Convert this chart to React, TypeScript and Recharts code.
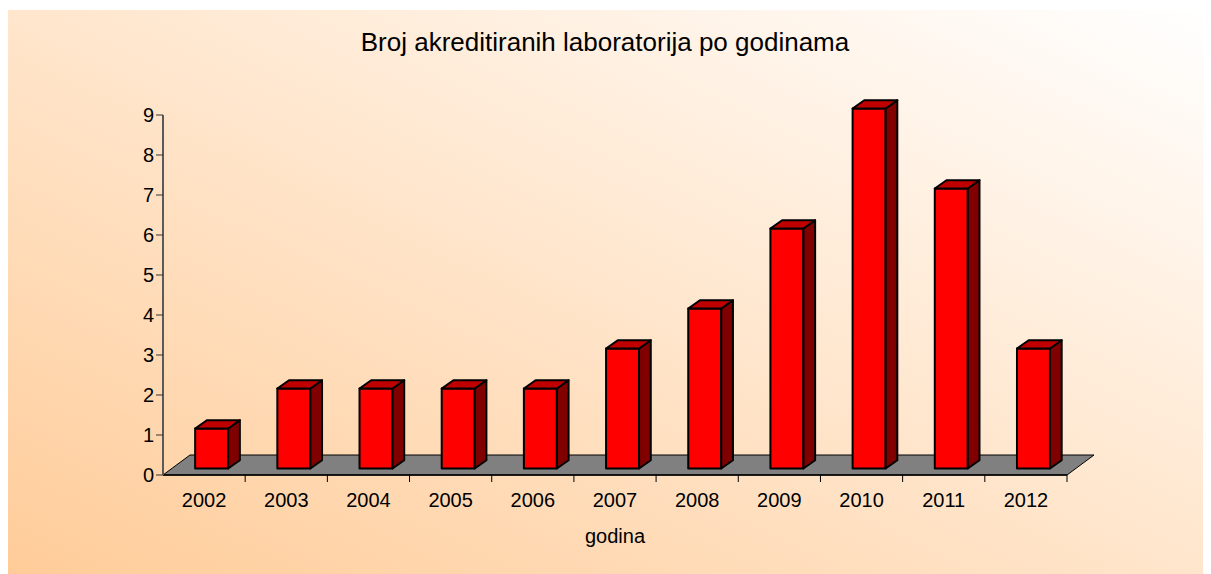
import React from 'react';
import { BarChart, Bar, XAxis, YAxis, ReferenceArea } from 'recharts';

const years = ['2002', '2003', '2004', '2005', '2006', '2007', '2008', '2009', '2010', '2011', '2012'];
const counts = [1, 2, 2, 2, 2, 3, 4, 6, 9, 7, 3];
const yTicks = [0, 1, 2, 3, 4, 5, 6, 7, 8, 9];
const titleText = 'Broj akreditiranih laboratorija po godinama';
const xAxisTitle = 'godina';

const data = years.map((year, i) => ({ year, count: counts[i] }));

const FONT = '"Liberation Sans", Arial, sans-serif';
const DEPTH_X = 11.7;
const DEPTH_Y = 8.3;
const SHIFT_X = 7.5;
const SHIFT_Y = 6.5;
const FLOOR_X = 27;
const FLOOR_Y = 20;

function Box(props: any) {
  const { x, y, width, height } = props;
  if (width == null || height == null) return null;
  const fx = x + SHIFT_X;
  const fy = y - SHIFT_Y;
  const top = `M${fx},${fy} L${fx + DEPTH_X},${fy - DEPTH_Y} L${fx + width + DEPTH_X},${fy - DEPTH_Y} L${fx + width},${fy} Z`;
  const side = `M${fx + width},${fy} L${fx + width + DEPTH_X},${fy - DEPTH_Y} L${fx + width + DEPTH_X},${fy + height - DEPTH_Y} L${fx + width},${fy + height} Z`;
  return (
    <g stroke="#000" strokeWidth={2} strokeLinejoin="round">
      <rect x={fx} y={fy} width={width} height={height} fill="#FF0000" />
      <path d={side} fill="#800000" />
      <path d={top} fill="#C00000" />
    </g>
  );
}

function Floor(props: any) {
  const { x, y, width, height } = props;
  const b = y + height;
  const d = `M${x},${b} L${x + FLOOR_X},${b - FLOOR_Y} L${x + width + FLOOR_X},${b - FLOOR_Y} L${x + width},${b} Z`;
  const n = years.length;
  const ticks = [];
  for (let i = 1; i <= n; i++) {
    const tx = x + (width * i) / n;
    ticks.push(<line key={i} x1={tx} y1={b} x2={tx} y2={b + 7} stroke="#000" strokeWidth={1} />);
  }
  return (
    <g>
      <path d={d} fill="#808080" stroke="#000" strokeWidth={1} />
      {ticks}
    </g>
  );
}

export default function App() {
  return (
    <div style={{ paddingTop: 2 }}>
      <div
        style={{
          position: 'relative',
          width: 1203,
          height: 564,
          background: 'linear-gradient(to top right, #FFCC99, #FFFFFF)',
          fontFamily: FONT,
        }}
      >
        <div
          style={{
            position: 'absolute',
            left: 0,
            top: 17,
            width: 1194,
            textAlign: 'center',
            fontSize: 26,
            lineHeight: '30px',
            color: '#000',
          }}
        >
          {titleText}
        </div>
        <BarChart
          width={1203}
          height={564}
          data={data}
          margin={{ top: 105, right: 144, left: 95, bottom: 59 }}
          barCategoryGap="30%"
          style={{ position: 'absolute', left: 0, top: 0 }}
        >
          <ReferenceArea
            x1={years[0]}
            x2={years[years.length - 1]}
            y1={0}
            y2={9}
            ifOverflow="visible"
            shape={(p: any) => <Floor {...p} />}
          />
          <XAxis
            dataKey="year"
            interval={0}
            tickLine={false}
            tickSize={8}
            tickMargin={10}
            axisLine={{ stroke: '#000', strokeWidth: 1.5 }}
            tick={{ fill: '#000', fontSize: 20, fontFamily: FONT }}
            height={40}
            label={{ value: xAxisTitle, position: 'bottom', offset: 14, fill: '#000', fontSize: 20, fontFamily: FONT }}
          />
          <YAxis
            domain={[0, 9]}
            ticks={yTicks}
            interval={0}
            width={60}
            tickSize={7}
            axisLine={{ stroke: '#5a5a5a', strokeWidth: 2 }}
            tickLine={{ stroke: '#333', strokeWidth: 1 }}
            tick={{ fill: '#000', fontSize: 20, fontFamily: FONT }}
          />
          <Bar dataKey="count" shape={(p: any) => <Box {...p} />} isAnimationActive={false} />
        </BarChart>
      </div>
    </div>
  );
}
